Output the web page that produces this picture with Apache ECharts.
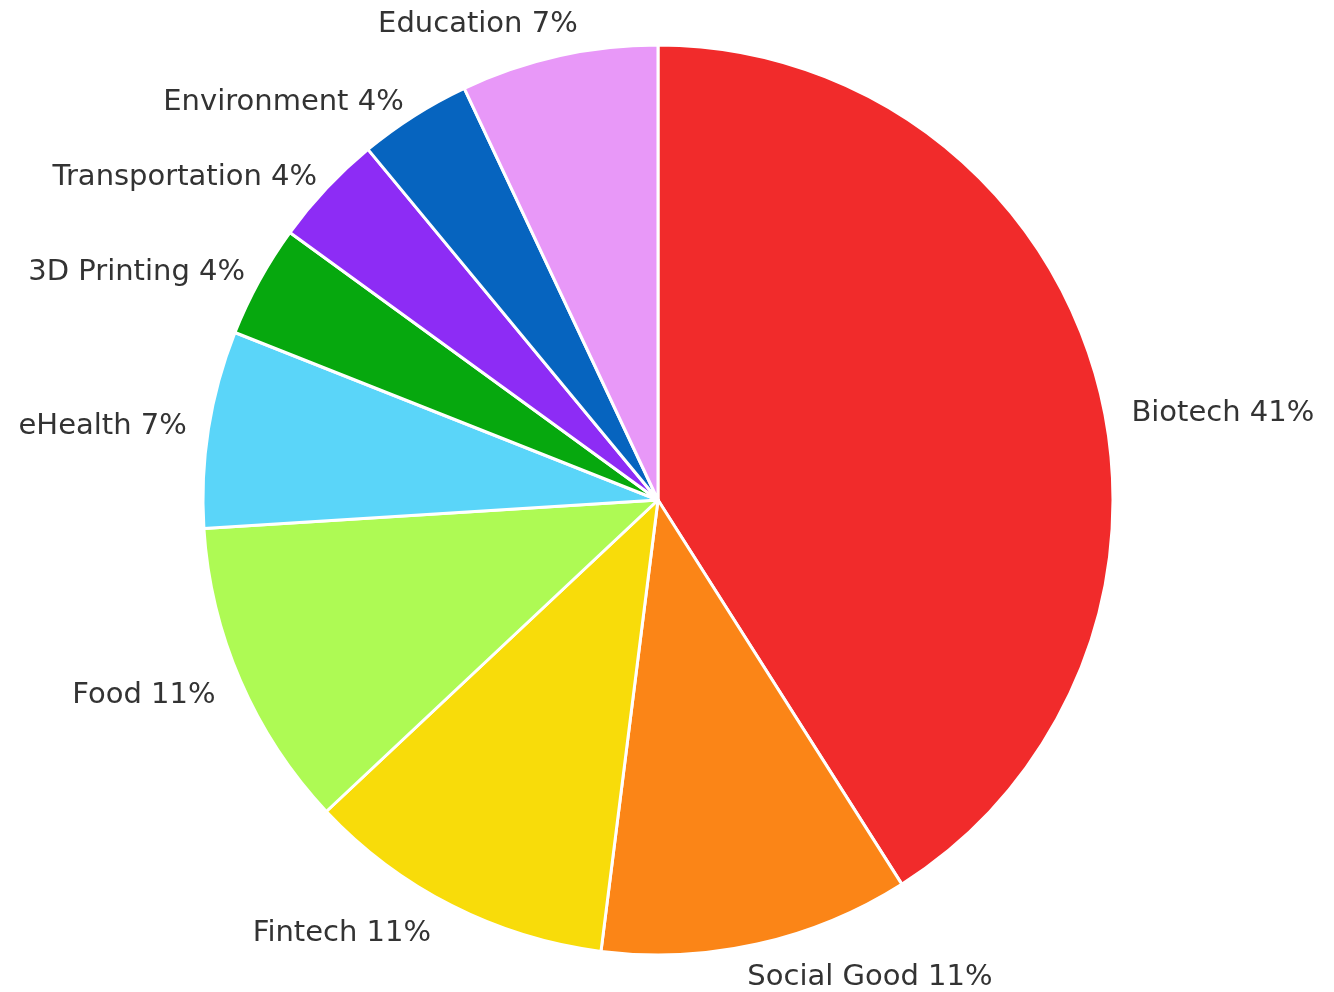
<!DOCTYPE html>
<html>
<head>
<meta charset="utf-8">
<script src="https://cdn.jsdelivr.net/npm/echarts@6/dist/echarts.min.js"></script>
<style>
html,body{margin:0;padding:0;background:#fff;}
#chart{width:1334px;height:992px;}
</style>
</head>
<body>
<div id="chart"></div>
<script>
const categories = ['Biotech', 'Social Good', 'Fintech', 'Food', 'eHealth', '3D Printing', 'Transportation', 'Environment', 'Education'];
const values = [41, 11, 11, 11, 7, 4, 4, 4, 7];
const colors = ['#f12b2b', '#fb8517', '#f8dc0a', '#aefa54', '#5ad5f9', '#06a80e', '#8d2cf5', '#0664bf', '#e898f8'];

// small label nudges (style only) to mimic the original label placement
const labelNudge = [[18, 44], [-18, 20], [-9, 16], [-7, 9], [-3, 0], [3, -2], [6, -1], [2, -2], [27, -18]];

const chart = echarts.init(document.getElementById('chart'));
chart.setOption({
  animation: false,
  backgroundColor: '#ffffff',
  series: [{
    type: 'pie',
    center: [658, 500],
    radius: 455,
    startAngle: 90,
    clockwise: true,
    percentPrecision: 0,
    avoidLabelOverlap: false,
    data: categories.map((c, i) => ({ name: c, value: values[i], itemStyle: { color: colors[i] } })),
    itemStyle: { borderColor: '#ffffff', borderWidth: 3 },
    label: {
      show: true,
      position: 'outside',
      formatter: '{b} {d}%',
      fontFamily: 'DejaVu Sans',
      fontSize: 29,
      color: '#333333'
    },
    labelLine: { show: false, length: 14, length2: 0 },
    labelLayout: function (p) {
      const n = labelNudge[p.dataIndex] || [0, 0];
      return { dx: n[0], dy: n[1] };
    },
    emphasis: { disabled: true }
  }]
});
</script>
</body>
</html>
